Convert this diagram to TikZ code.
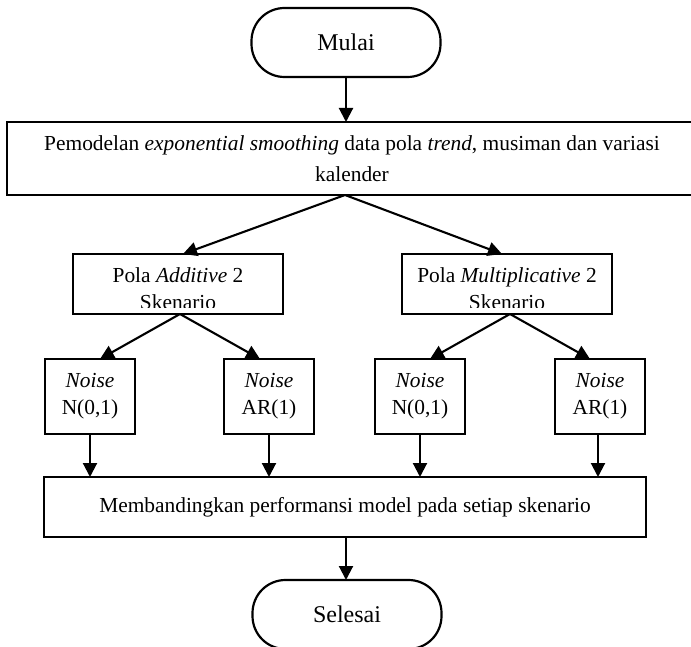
\documentclass[tikz,border=0pt]{standalone}
\usepackage{fontspec}
\setmainfont{Liberation Serif}
\usetikzlibrary{arrows.meta}
\begin{document}
\begin{tikzpicture}[x=1pt,y=-1pt,
  every node/.style={inner sep=0pt,outer sep=0pt},
  box/.style={draw,line width=2.3pt,rectangle,align=center,
    font=\fontsize{21.4}{27}\selectfont},
  terminal/.style={draw,line width=2.2pt,rounded corners=33pt,
    minimum width=189pt,minimum height=69pt,font=\fontsize{24}{28}\selectfont},
  flow/.style={line width=2.1pt,-{Triangle[length=14pt,width=14pt]}},
  clippedtext/.style={path picture={
    \clip ([yshift=7pt]path picture bounding box.south west) rectangle
          (path picture bounding box.north east);
    \node[align=center,font=\fontsize{21.4}{27}\selectfont]
      at ([yshift=-4.5pt]path picture bounding box.center) {#1};}}
]
\useasboundingbox (0,0) rectangle (691,647);

% start and end terminals
\node[terminal] (mulai) at (346,42.5) {Mulai};
\node[terminal] (selesai) at (347,614.5) {Selesai};

% modelling step
\node[box,minimum width=690pt,minimum height=73pt,
  font=\fontsize{21.4}{31}\selectfont] (model) at (352,158.5)
  {Pemodelan \textit{exponential smoothing} data pola \textit{trend}, musiman dan variasi\\kalender};

% two pattern scenarios (second line cut off by the box)
\node[box,minimum width=210pt,minimum height=60pt,
  clippedtext={Pola \textit{Additive} 2\\Skenario}] (add) at (178,284) {};
\node[box,minimum width=210pt,minimum height=60pt,
  clippedtext={Pola \textit{Multiplicative} 2\\Skenario}] (mult) at (507,284) {};

% noise variants
\tikzset{noise/.style={box,minimum width=90pt,minimum height=75pt}}
\node[noise] (n1) at (90,396.5)  {\textit{Noise}\\N(0,1)};
\node[noise] (n2) at (269,396.5) {\textit{Noise}\\AR(1)};
\node[noise] (n3) at (420,396.5) {\textit{Noise}\\N(0,1)};
\node[noise] (n4) at (600,396.5) {\textit{Noise}\\AR(1)};

% comparison step
\node[box,minimum width=602pt,minimum height=60pt] (cmp) at (345,507)
  {Membandingkan performansi model pada setiap skenario};

% connectors
\draw[flow] (mulai.south) -- (mulai.south |- model.north);
\draw[flow] ([xshift=-7pt]model.south) -- ([xshift=5pt]add.north);
\draw[flow] ([xshift=-7pt]model.south) -- ([xshift=-5pt]mult.north);
\draw[flow] ([xshift=2pt]add.south) -- ([xshift=10pt]n1.north);
\draw[flow] ([xshift=2pt]add.south) -- ([xshift=-9pt]n2.north);
\draw[flow] ([xshift=3pt]mult.south) -- ([xshift=10pt]n3.north);
\draw[flow] ([xshift=3pt]mult.south) -- ([xshift=-10pt]n4.north);
\draw[flow] (n1.south) -- (n1.south |- cmp.north);
\draw[flow] (n2.south) -- (n2.south |- cmp.north);
\draw[flow] (n3.south) -- (n3.south |- cmp.north);
\draw[flow] ([xshift=-2pt]n4.south) -- ([xshift=-2pt]n4.south |- cmp.north);
\draw[flow] ([xshift=1pt]cmp.south) -- ([xshift=1pt]cmp.south |- selesai.north);
\end{tikzpicture}
\end{document}
